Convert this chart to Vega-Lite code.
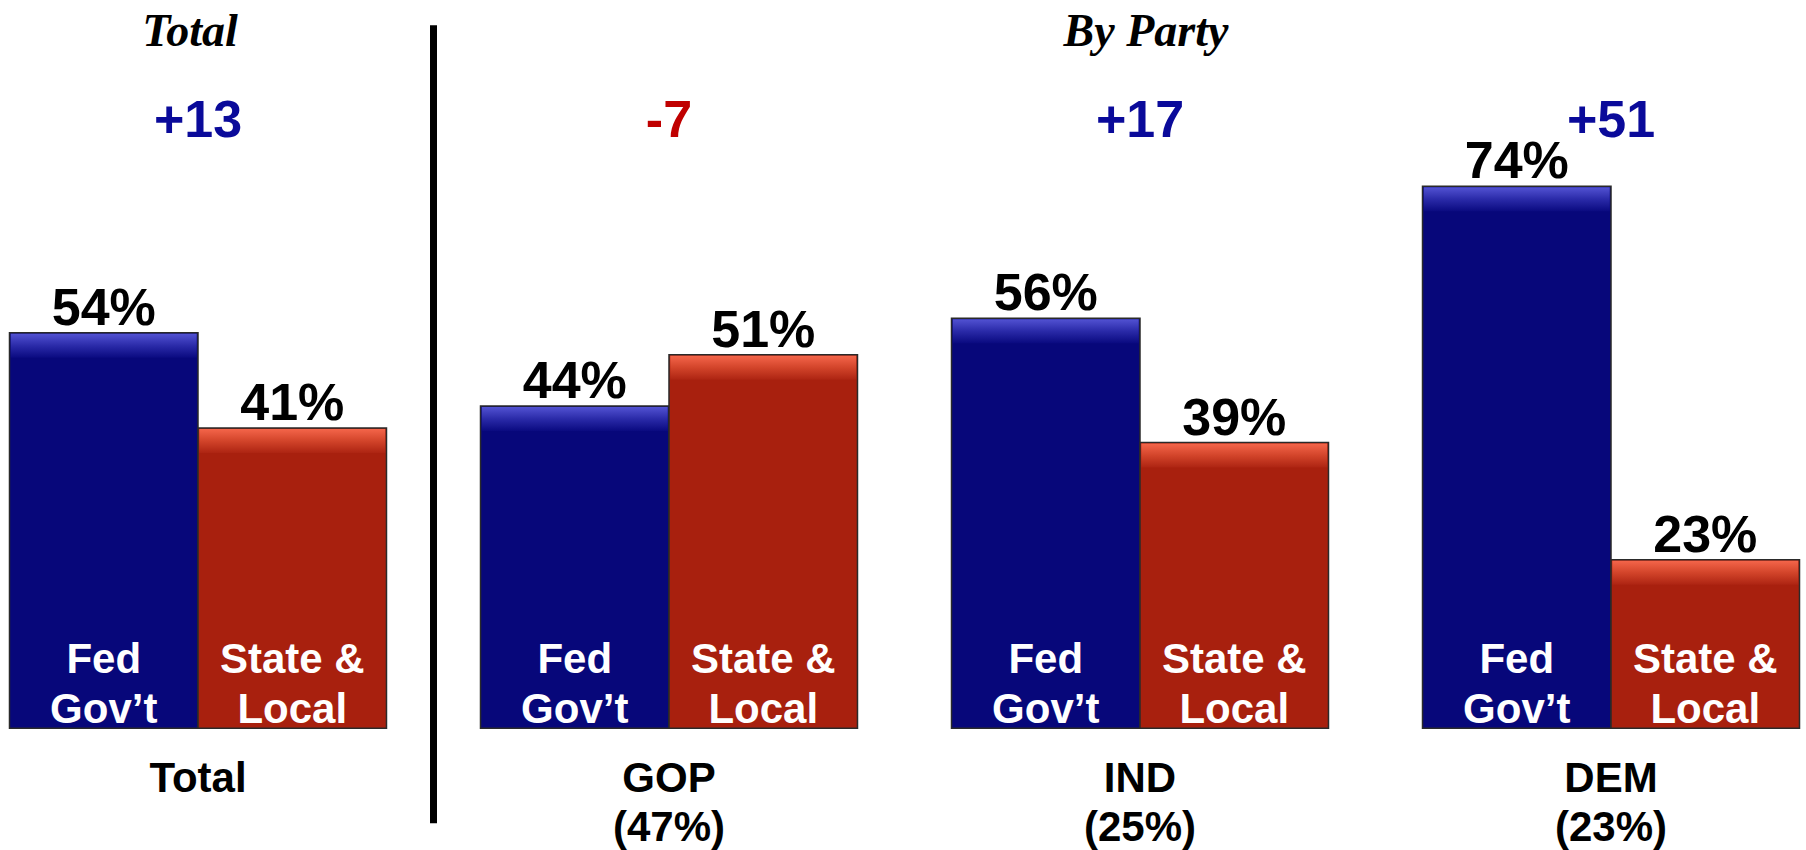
{
  "$schema": "https://vega.github.io/schema/vega-lite/v6.json",
  "autosize": {"type": "fit", "contains": "padding"},
  "width": 1806,
  "height": 850,
  "padding": {"left": 3, "right": 0, "top": 0, "bottom": 0},
  "background": "white",
  "config": {"view": {"stroke": null}},
  "datasets": {
    "bars": [
      {"group": "Total", "type": "Fed", "value": 54, "label": "54%", "inner": ["Fed", "Gov’t"]},
      {"group": "Total", "type": "State", "value": 41, "label": "41%", "inner": ["State &", "Local"]},
      {"group": "GOP", "type": "Fed", "value": 44, "label": "44%", "inner": ["Fed", "Gov’t"]},
      {"group": "GOP", "type": "State", "value": 51, "label": "51%", "inner": ["State &", "Local"]},
      {"group": "IND", "type": "Fed", "value": 56, "label": "56%", "inner": ["Fed", "Gov’t"]},
      {"group": "IND", "type": "State", "value": 39, "label": "39%", "inner": ["State &", "Local"]},
      {"group": "DEM", "type": "Fed", "value": 74, "label": "74%", "inner": ["Fed", "Gov’t"]},
      {"group": "DEM", "type": "State", "value": 23, "label": "23%", "inner": ["State &", "Local"]}
    ],
    "groups": [
      {"group": "Total", "diff": "+13", "sign": "pos", "caption": ["Total"]},
      {"group": "GOP", "diff": "-7", "sign": "neg", "caption": ["GOP", "(47%)"]},
      {"group": "IND", "diff": "+17", "sign": "pos", "caption": ["IND", "(25%)"]},
      {"group": "DEM", "diff": "+51", "sign": "pos", "caption": ["DEM", "(23%)"]}
    ]
  },
  "encoding": {
    "x": {
      "field": "group",
      "type": "nominal",
      "sort": ["Total", "GOP", "IND", "DEM"],
      "scale": {"type": "band", "domain": ["Total", "GOP", "IND", "DEM"], "paddingInner": 0.1996, "paddingOuter": 0.0138},
      "axis": null
    }
  },
  "layer": [
    {
      "data": {"name": "bars"},
      "mark": {"type": "bar", "stroke": "#2a2a2a", "strokeWidth": 1.5},
      "encoding": {
        "xOffset": {"field": "type", "type": "nominal", "sort": ["Fed", "State"], "scale": {"paddingInner": 0, "paddingOuter": 0}},
        "y": {"field": "value", "type": "quantitative", "scale": {"domain": [-16.5, 99.45], "nice": false, "zero": false}, "axis": null},
        "color": {"field": "type", "type": "nominal", "scale": {"domain": ["Fed", "State"], "range": ["#07077a", "#a8200e"]}, "legend": null}
      }
    },
    {
      "data": {"name": "bars"},
      "transform": [{"filter": "datum.type === 'Fed'"}],
      "mark": {"type": "tick", "thickness": 24, "size": 186, "yOffset": 13,
        "color": {"gradient": "linear", "x1": 0, "y1": 0, "x2": 0, "y2": 1,
          "stops": [{"offset": 0, "color": "#5252d2"}, {"offset": 0.5, "color": "#2a2aa8"}, {"offset": 1, "color": "#0a0a80"}]},
        "opacity": 1},
      "encoding": {
        "xOffset": {"field": "type", "type": "nominal", "sort": ["Fed", "State"]},
        "y": {"field": "value", "type": "quantitative"}
      }
    },
    {
      "data": {"name": "bars"},
      "transform": [{"filter": "datum.type === 'State'"}],
      "mark": {"type": "tick", "thickness": 24, "size": 186, "yOffset": 13,
        "color": {"gradient": "linear", "x1": 0, "y1": 0, "x2": 0, "y2": 1,
          "stops": [{"offset": 0, "color": "#f4654a"}, {"offset": 0.5, "color": "#d2442a"}, {"offset": 1, "color": "#ad2412"}]},
        "opacity": 1},
      "encoding": {
        "xOffset": {"field": "type", "type": "nominal", "sort": ["Fed", "State"]},
        "y": {"field": "value", "type": "quantitative"}
      }
    },
    {
      "data": {"name": "bars"},
      "mark": {"type": "text", "font": "Liberation Sans", "fontWeight": "bold", "fontSize": 52, "color": "#000000", "baseline": "alphabetic", "dy": -8},
      "encoding": {
        "xOffset": {"field": "type", "type": "nominal", "sort": ["Fed", "State"]},
        "y": {"field": "value", "type": "quantitative"},
        "text": {"field": "label", "type": "nominal"}
      }
    },
    {
      "data": {"name": "bars"},
      "mark": {"type": "text", "font": "Liberation Sans", "fontWeight": "bold", "fontSize": 42, "color": "#ffffff", "baseline": "alphabetic", "dy": -55, "lineHeight": 50},
      "encoding": {
        "xOffset": {"field": "type", "type": "nominal", "sort": ["Fed", "State"]},
        "y": {"datum": 0, "type": "quantitative"},
        "text": {"field": "inner", "type": "nominal"}
      }
    },
    {
      "data": {"name": "groups"},
      "mark": {"type": "text", "font": "Liberation Sans", "fontWeight": "bold", "fontSize": 52, "baseline": "alphabetic"},
      "encoding": {
        "y": {"datum": 80.75, "type": "quantitative"},
        "text": {"field": "diff", "type": "nominal"},
        "color": {"condition": {"test": "datum.sign === 'neg'", "value": "#c00000"}, "value": "#0a0a9a"}
      }
    },
    {
      "data": {"name": "groups"},
      "mark": {"type": "text", "font": "Liberation Sans", "fontWeight": "bold", "fontSize": 42, "color": "#000000", "baseline": "alphabetic", "dy": 64, "lineHeight": 49},
      "encoding": {
        "y": {"datum": 0, "type": "quantitative"},
        "text": {"field": "caption", "type": "nominal"}
      }
    },
    {
      "data": {"values": [{"title": "Total"}]},
      "mark": {"type": "text", "font": "Liberation Serif", "fontWeight": "bold", "fontStyle": "italic", "fontSize": 46, "color": "#000000", "baseline": "alphabetic", "dx": -8},
      "encoding": {
        "x": {"datum": "Total", "type": "nominal"},
        "y": {"datum": 93.1, "type": "quantitative"},
        "text": {"field": "title", "type": "nominal"}
      }
    },
    {
      "data": {"values": [{"title": "By Party"}]},
      "mark": {"type": "text", "font": "Liberation Serif", "fontWeight": "bold", "fontStyle": "italic", "fontSize": 46, "color": "#000000", "baseline": "alphabetic", "dx": 6},
      "encoding": {
        "x": {"datum": "IND", "type": "nominal"},
        "y": {"datum": 93.1, "type": "quantitative"},
        "text": {"field": "title", "type": "nominal"}
      }
    },
    {
      "data": {"values": [{"divider": "line"}]},
      "mark": {"type": "rule", "color": "#000000", "strokeWidth": 7, "xOffset": -47},
      "encoding": {
        "x": {"datum": "GOP", "type": "nominal", "bandPosition": 0},
        "y": {"datum": 96, "type": "quantitative"},
        "y2": {"datum": -13}
      }
    }
  ]
}
